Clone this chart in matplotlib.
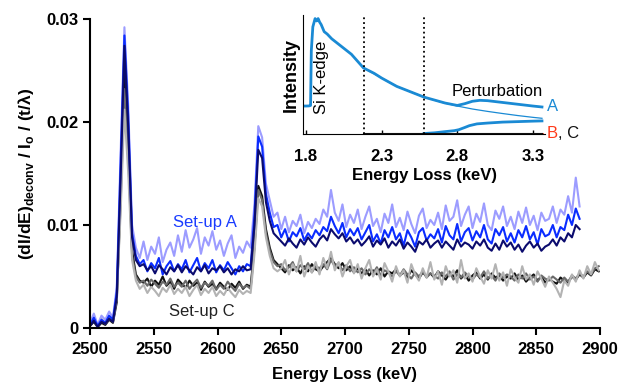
import numpy as np
import matplotlib
matplotlib.use("Agg")
import matplotlib.pyplot as plt

plt.rcParams['font.family'] = ['Liberation Sans', 'DejaVu Sans']
plt.rcParams['mathtext.fontset'] = 'custom'
plt.rcParams['mathtext.rm'] = 'Liberation Sans'
plt.rcParams['mathtext.bf'] = 'Liberation Sans:bold'

# ---------------- main spectra (values x 1e-4), 3 keV grid ----------------
energy_full = np.arange(2500, 2900, 3)      # 2500..2899 (134 pts)
energy_blue = np.arange(2500, 2885, 3)      # 2500..2884 (129 pts)

light_blue = [5, 14, 3, 12, 8, 16, 10,
              40, 170, 292, 215, 100, 78, 68,
              84, 66, 79, 72, 88, 64, 76, 83, 70, 90,
              74, 95, 78, 86, 97, 72, 88, 80, 94, 76,
              85, 70, 82, 90, 68, 79, 73, 84,
              78, 120, 196, 185, 140, 124, 108, 112,
              96, 108, 93, 104, 99, 110, 92, 103, 97, 106,
              101, 115, 108, 134, 112, 104, 120, 98, 110, 102,
              115, 96, 108, 118, 99, 106, 93, 111, 102, 120,
              98, 107, 95, 113, 101, 92, 109, 116, 97, 105,
              100, 112, 96, 119, 104, 108, 124, 99, 110, 118,
              97, 111, 103, 121, 100, 95, 114, 106, 118, 99,
              108, 96, 113, 102, 117, 100, 109, 95, 112, 104,
              106, 118, 102, 115, 110, 128, 112, 146, 118]
blue = [3, 10, 2, 8, 5, 12, 8,
        35, 158, 284, 205, 92, 70, 62,
        66, 55, 63, 58, 68, 52, 60, 65, 55, 62,
        57, 66, 54, 61, 68, 55, 63, 58, 66, 54,
        61, 56, 64, 58, 52, 60, 55, 62,
        60, 110, 186, 176, 130, 112, 98, 100,
        88, 96, 84, 93, 89, 97, 85, 92, 87, 95,
        90, 98, 94, 108, 99, 92, 102, 88, 96, 90,
        97, 86, 93, 100, 84, 91, 82, 95, 88, 98,
        86, 92, 80, 95, 88, 79, 93, 97, 85, 91,
        87, 96, 83, 99, 90, 86, 101, 84, 93, 97,
        85, 94, 88, 100, 86, 82, 96, 90, 98, 84,
        92, 83, 95, 88, 99, 86, 93, 81, 96, 89,
        91, 100, 88, 98, 95, 110, 100, 116, 106]
navy = [2, 7, 1, 6, 4, 9, 6,
        30, 145, 274, 195, 88, 66, 60,
        62, 56, 60, 53, 61, 57, 52, 59, 55, 61,
        54, 60, 56, 52, 59, 55, 61, 53, 58, 56,
        60, 54, 58, 52, 57, 55, 60, 56,
        57, 100, 173, 165, 122, 104, 92, 88,
        84, 80, 87, 82, 78, 86, 81, 88, 83, 79,
        86, 90, 85, 96, 91, 87, 92, 84, 88, 82,
        86, 80, 84, 89, 79, 85, 81, 87, 78, 84,
        80, 86, 77, 83, 79, 74, 84, 81, 86, 78,
        82, 85, 78, 84, 80, 76, 86, 79, 83, 81,
        77, 84, 80, 86, 78, 75, 82, 76, 85, 79,
        83, 76, 81, 74, 80, 84, 78, 82, 75, 79,
        81, 86, 80, 88, 84, 92, 88, 100, 96]
black = [2, 6, 1, 5, 3, 8, 5,
         25, 130, 250, 175, 75, 52, 46,
         44, 48, 40, 46, 42, 50, 41, 45, 38, 47,
         43, 39, 46, 41, 44, 37, 45, 40, 43, 38,
         44, 40, 37, 43, 39, 45, 38, 42,
         40, 80, 138, 128, 96, 78, 66, 62,
         58, 54, 61, 56, 59, 53, 60, 55, 62, 57,
         55, 60, 64, 68, 62, 58, 63, 56, 60, 54,
         58, 53, 57, 51, 56, 52, 58, 50, 55, 53,
         57, 51, 54, 49, 56, 52, 48, 54, 50, 53,
         49, 55, 51, 47, 53, 50, 56, 48, 52, 46,
         51, 54, 48, 52, 47, 53, 49, 51, 46, 50,
         48, 53, 47, 51, 45, 49, 52, 46, 50, 44,
         48, 45, 43, 49, 46, 44, 50, 47, 52, 49,
         54, 51, 57, 55]
dark_grey = [3, 8, 2, 7, 4, 9, 6,
             28, 120, 232, 165, 70, 50, 44,
             46, 41, 47, 43, 39, 45, 42, 48, 40, 44,
             40, 46, 38, 43, 47, 39, 44, 41, 46, 37,
             42, 38, 45, 40, 36, 43, 39, 41,
             38, 78, 134, 124, 92, 75, 64, 60,
             62, 56, 59, 64, 55, 61, 57, 63, 54, 60,
             58, 62, 57, 66, 60, 63, 56, 61, 55, 59,
             54, 58, 52, 57, 53, 59, 51, 56, 54, 50,
             55, 51, 57, 52, 48, 54, 50, 55, 49, 53,
             51, 48, 54, 50, 55, 47, 52, 49, 54, 50,
             47, 52, 49, 55, 48, 51, 46, 53, 49, 52,
             50, 46, 52, 48, 53, 47, 50, 45, 51, 48,
             46, 50, 47, 44, 49, 45, 51, 48, 53, 50,
             55, 52, 58, 60]
light_grey = [4, 10, 1, 9, 5, 11, 7,
              30, 112, 212, 150, 66, 46, 38,
              42, 34, 40, 36, 31, 39, 35, 42, 33, 38,
              34, 40, 31, 37, 42, 32, 38, 34, 40, 31,
              36, 32, 39, 34, 30, 37, 33, 36,
              34, 72, 126, 118, 88, 70, 58, 55,
              58, 66, 52, 62, 55, 70, 50, 60, 54, 64,
              52, 68, 58, 74, 56, 64, 50, 60, 66, 53,
              62, 48, 58, 66, 50, 57, 47, 63, 55, 45,
              60, 50, 56, 44, 62, 52, 46, 58, 49, 64,
              47, 55, 42, 60, 50, 56, 44, 66, 48, 53,
              45, 58, 50, 43, 56, 48, 62, 46, 54, 41,
              57, 49, 44, 60, 47, 52, 42, 55, 48, 40,
              50, 44, 38, 30, 46, 41, 52, 45, 56, 48,
              60, 52, 64, 56]
SCALE = 1e-4

# ---------------- inset data ----------------
inset_E_A = [1.78, 1.80, 1.82, 1.83, 1.835, 1.845, 1.86, 1.87, 1.88, 1.89, 1.90,
             1.92, 1.94, 1.97, 2.00, 2.05, 2.10, 2.18, 2.25, 2.30, 2.40, 2.50,
             2.58, 2.65, 2.72, 2.80, 2.85, 2.90, 2.95, 3.00, 3.10, 3.20, 3.30, 3.36]
inset_I_A = [0.235, 0.235, 0.236, 0.24, 0.70, 0.90, 0.97, 0.95, 0.97, 0.94, 0.92,
             0.86, 0.84, 0.80, 0.77, 0.72, 0.67, 0.555, 0.51, 0.47, 0.40, 0.35,
             0.31, 0.285, 0.26, 0.24, 0.255, 0.275, 0.283, 0.28, 0.265, 0.25, 0.235, 0.227]
inset_E_fit = [2.18, 2.30, 2.40, 2.50, 2.58, 2.70, 2.80, 2.90, 3.00, 3.10, 3.20, 3.30, 3.36]
inset_I_fit = [0.555, 0.47, 0.40, 0.35, 0.31, 0.265, 0.235, 0.21, 0.19, 0.172, 0.155, 0.14, 0.132]
inset_E_diff = [2.58, 2.65, 2.72, 2.78, 2.81, 2.85, 2.88, 2.93, 3.00, 3.10, 3.20, 3.30, 3.36]
inset_I_diff = [0.004, 0.01, 0.02, 0.028, 0.036, 0.055, 0.07, 0.085, 0.092, 0.10, 0.104, 0.108, 0.11]
inset_E_BC = [2.18, 3.36]
inset_I_B = [0.004, 0.004]
inset_I_C = [0.002, 0.002]
inset_lines = [2.18, 2.58]
inset_ticks = [1.8, 2.3, 2.8, 3.3]

# ---------------- figure ----------------
fig = plt.figure(figsize=(6.22, 3.84), dpi=100)
ax = fig.add_axes([90/622, 56/384, 510/622, 309/384])

lw = 1.5
ax.plot(energy_full, np.array(black) * SCALE, color='#111111', lw=lw)
ax.plot(energy_full, np.array(dark_grey) * SCALE, color='#6a6a6a', lw=lw)
ax.plot(energy_full, np.array(light_grey) * SCALE, color='#b3b3b3', lw=lw)
ax.plot(energy_blue, np.array(light_blue) * SCALE, color='#9c9cff', lw=lw)
ax.plot(energy_blue, np.array(blue) * SCALE, color='#0a2cff', lw=lw)
ax.plot(energy_blue, np.array(navy) * SCALE, color='#0b0b6e', lw=lw)

ax.set_xlim(2500, 2900)
ax.set_ylim(0, 0.03)
ax.set_xticks(np.arange(2500, 2901, 50))
ax.set_yticks([0, 0.01, 0.02, 0.03])
ax.set_yticklabels(['0', '0.01', '0.02', '0.03'])
for s in ['top', 'right']:
    ax.spines[s].set_visible(False)
for s in ['left', 'bottom']:
    ax.spines[s].set_linewidth(1.5)
ax.tick_params(direction='out', length=5, width=1.5, labelsize=12)
ax.tick_params(axis='x', pad=5)
for lab in ax.get_xticklabels() + ax.get_yticklabels():
    lab.set_fontweight('bold')
ax.set_xlabel('Energy Loss (keV)', fontsize=12, fontweight='bold', labelpad=7)
ax.set_ylabel(r'(dI/dE)$_{\mathbf{deconv}}$ / I$_{\mathbf{o}}$ / (t/λ)',
              fontsize=12.5, fontweight='bold', labelpad=7)

ax.text(2590, 0.0102, 'Set-up A', color='#1a3cff', fontsize=12, ha='center', va='center')
ax.text(2588, 0.00165, 'Set-up C', color='#222222', fontsize=12, ha='center', va='center')

# ---------------- inset ----------------
ins = fig.add_axes([303/622, (384-134)/384, 242/622, 119/384])
ins.plot(inset_E_A, inset_I_A, color='#1a8ad4', lw=2.0)
ins.plot(inset_E_fit, inset_I_fit, color='#1a8ad4', lw=0.9)
ins.plot(inset_E_diff, inset_I_diff, color='#1a8ad4', lw=2.0)
ins.plot(inset_E_BC, inset_I_B, color='#ff3a1a', lw=2.0)
ins.plot(inset_E_BC, inset_I_C, color='#111111', lw=1.5)
for xv in inset_lines:
    ins.axvline(xv, color='black', ls=':', lw=1.3)
ins.set_xlim(1.78, 3.38)
ins.set_ylim(0, 1)
ins.set_xticks(inset_ticks)
ins.set_xticklabels(['1.8', '2.3', '2.8', '3.3'])
ins.set_yticks([])
for s in ['top', 'right']:
    ins.spines[s].set_visible(False)
ins.tick_params(axis='x', direction='in', length=3, width=1, labelsize=12, pad=11)
for lab in ins.get_xticklabels():
    lab.set_fontweight('bold')
ins.set_xlabel('Energy Loss (keV)', fontsize=12, fontweight='bold', labelpad=3)
ins.set_ylabel('Intensity', fontsize=13, fontweight='bold', labelpad=2)
ins.patch.set_alpha(0)
ins.text(1.905, 0.48, 'Si K-edge', rotation=90, fontsize=12, ha='center', va='center')
ins.text(2.76, 0.36, 'Perturbation', fontsize=12, ha='left', va='center')
ins.text(3.39, 0.227, 'A', color='#1a8ad4', fontsize=12, ha='left', va='center')
ins.text(3.39, 0.0, 'B', color='#ff3a1a', fontsize=12, ha='left', va='center')
ins.text(3.468, 0.0, ', C', color='#111111', fontsize=12, ha='left', va='center')

fig.savefig('out.png', dpi=100)
